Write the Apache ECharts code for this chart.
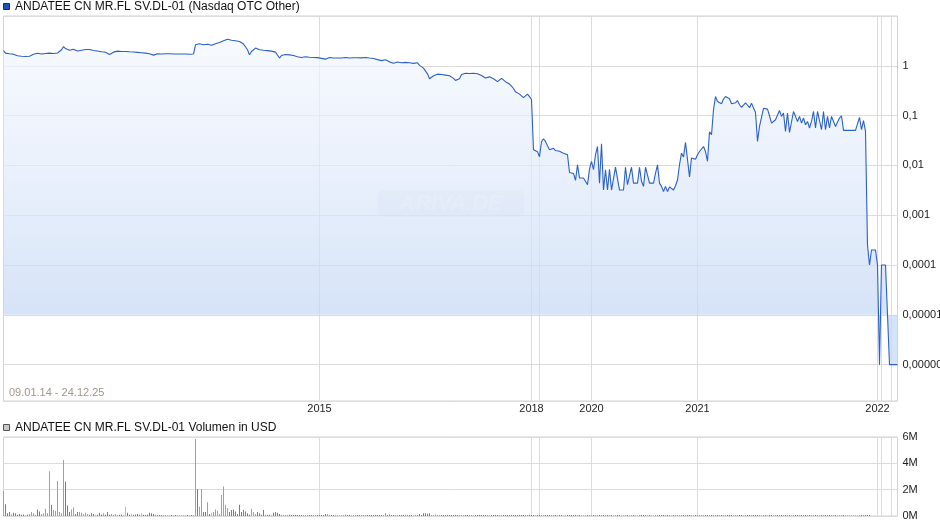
<!DOCTYPE html>
<html><head><meta charset="utf-8">
<script src="https://cdn.jsdelivr.net/npm/echarts@6/dist/echarts.min.js"></script>
<style>html,body{margin:0;padding:0;background:#fff}#c{width:940px;height:526px}</style>
</head><body><div id="c"></div>
<script>
// ---- data ----
const titleMain = 'ANDATEE CN MR.FL SV.DL-01 (Nasdaq OTC Other)';
const titleVol = 'ANDATEE CN MR.FL SV.DL-01 Volumen in USD';
const dateRange = '09.01.14 - 24.12.25';

// closing prices (USD), one per trading-day slot
const price = [
2.03,1.80,1.78,1.74,1.74,1.70,1.66,1.59,1.57,1.55,
1.54,1.54,1.52,1.55,1.63,1.70,1.83,1.78,1.69,1.72,
1.74,1.76,1.78,1.80,1.74,1.76,1.78,1.81,1.84,2.10,
2.44,2.22,2.10,2.05,2.10,2.15,2.00,1.98,2.02,2.05,
2.08,2.12,2.15,2.12,2.05,2.03,2.03,1.98,1.93,1.91,
1.96,1.87,1.76,1.69,1.78,1.88,1.96,1.97,1.95,1.94,
1.94,1.94,1.93,1.91,1.91,1.89,1.88,1.86,1.83,1.83,
1.81,1.80,1.78,1.74,1.71,1.64,1.71,1.74,1.73,1.72,
1.73,1.74,1.74,1.74,1.73,1.73,1.72,1.72,1.72,1.72,
1.72,1.72,1.70,1.70,1.69,1.72,
2.64,2.52,2.77,2.83,2.64,2.58,2.70,2.58,2.58,2.64,
2.77,2.90,2.94,3.11,3.18,3.23,3.41,3.33,3.25,3.23,
3.18,3.14,3.08,2.97,2.73,2.41,2.10,1.66,1.94,2.10,
2.27,2.15,2.10,2.07,2.05,2.10,2.02,1.97,1.97,1.91,
1.88,1.74,1.43,1.61,1.66,1.69,1.72,1.66,1.63,1.61,
1.57,1.52,1.50,1.47,1.48,1.52,1.57,1.48,1.43,1.47,
1.50,1.46,1.43,
1.41,1.38,1.36,1.41,1.47,1.46,1.43,1.43,1.43,1.43,
1.43,1.45,1.47,1.45,1.43,1.43,1.45,1.47,1.45,1.43,
1.44,1.46,1.47,1.45,1.43,1.42,1.40,1.38,1.33,1.28,
1.27,1.30,1.32,1.26,1.20,1.18,1.13,1.16,1.19,1.17,
1.15,1.14,1.17,1.19,1.15,1.12,1.12,1.14,1.15,1.02,
0.955,0.90,0.83,0.69,0.55,0.59,
0.63,0.66,0.68,0.69,0.67,0.66,0.65,0.64,0.63,0.60,
0.56,0.51,0.47,0.55,0.67,0.73,0.71,0.69,0.70,0.71,
0.71,0.70,0.69,0.67,0.64,0.61,0.57,0.60,0.60,0.57,
0.55,0.51,0.48,0.52,0.56,0.54,0.48,0.46,0.43,0.39,
0.35,0.30,0.29,0.27,0.26,0.23,0.24,0.27,0.24,0.21,
0.0206,0.0206,0.0188,0.0149,0.0299,0.0343,0.0303,0.0248,0.0206,0.0216,
0.0220,0.0199,0.0199,0.0192,0.0176,0.0176,0.0176,0.0164,0.0072,0.0071,
0.0069,0.0050,0.0103,0.0056,0.0056,0.0056,0.0056,0.0041,0.0084,0.0121,
0.0082,0.0164,0.0240,0.0044,0.0272,0.0032,0.0082,0.0032,0.0084,0.0032,
0.0032,0.0092,0.0087,0.0032,0.0032,0.0032,0.0092,0.0041,0.0041,0.0092,
0.0044,0.0044,0.0044,0.0092,0.0048,0.0038,0.0092,0.0092,0.0044,0.0044,
0.0044,0.0069,0.0103,0.0044,0.0038,0.0030,0.0038,0.0030,0.0037,0.0037,
0.0032,0.0039,0.0051,0.0103,0.0176,0.0147,0.0290,0.0282,0.0059,0.0141,
0.0141,0.0133,0.0164,0.0190,0.0206,0.0240,0.0190,0.0121,
0.0475,0.0413,0.131,0.242,0.192,0.208,0.173,0.215,0.242,0.233,
0.218,0.173,0.173,0.181,0.201,0.165,0.147,0.147,0.181,0.173,
0.144,0.178,0.142,0.117,0.0303,0.0606,0.0606,0.140,0.135,0.135,
0.0994,0.0706,0.0706,0.0826,0.0763,0.127,0.0963,0.113,0.0481,0.113,
0.0459,0.0459,0.121,0.0963,0.0763,0.0963,0.0706,0.0893,0.0656,0.0763,
0.0564,0.0763,0.121,0.0564,0.121,0.121,0.0521,0.121,0.0521,0.0963,
0.0564,0.0963,0.0994,0.0606,0.0606,0.0893,0.0994,0.0505,0.0505,0.0505,
0.0505,0.0505,0.0505,0.0505,0.0505,0.0921,0.0521,0.0792,0.0481,
0.00025,0.0001,0.0002,0.0002,0.0002,0.0001,0.000001,0.0001,0.0001,0.0001,
0.0001,0.000001,0.000001,0.000001,0.000001,0.000001
];

// traded volume, millions of USD, same slots
const volumeM = [
1.9,0.9,0.2,0.3,0.15,0.25,0.2,0.1,0.15,0.1,
0.12,0.08,0.1,0.15,0.3,0.2,0.1,0.5,0.35,0.15,
0.2,0.55,0.2,3.4,0.85,0.45,0.4,2.65,0.3,0.2,
4.25,2.6,0.8,0.3,0.5,0.65,0.15,0.3,0.3,0.25,
0.15,0.25,0.15,0.1,0.2,0.15,0.1,0.1,0.25,0.12,
0.2,0.1,0.3,0.1,0.15,0.1,0.15,0.08,0.1,0.12,
0.1,0.7,0.25,0.1,0.15,0.1,0.12,0.15,0.1,0.2,
0.1,0.08,0.1,0.25,0.2,0.15,0.1,0.05,0.05,0.04,
0.05,0.03,0.04,0.06,0.05,0.03,0.04,0.05,0.03,0.04,
0.05,0.04,0.03,0.05,0.04,0.05,
5.85,2.05,0.7,2.05,0.3,0.3,1.05,0.15,0.25,0.3,
0.5,0.4,0.15,1.6,2.25,0.85,0.6,0.3,0.45,0.5,
0.35,0.15,0.85,0.3,0.45,0.35,0.2,0.1,0.55,0.3,
0.15,0.3,0.2,0.1,0.45,0.1,0.08,0.1,0.1,0.25,
0.3,0.25,0.15,0.1,0.08,0.05,0.08,0.1,0.05,0.08,
0.05,0.08,0.05,0.05,0.08,0.05,0.05,0.05,0.04,0.06,
0.05,0.05,0.04,
0.06,0.08,0.15,0.15,0.1,0.05,0.08,0.1,0.04,0.05,
0.06,0.05,0.12,0.08,0.04,0.05,0.03,0.04,0.05,0.04,
0.05,0.04,0.05,0.06,0.05,0.04,0.05,0.04,0.05,0.06,
0.05,0.06,0.2,0.05,0.12,0.06,0.04,0.05,0.06,0.05,
0.05,0.06,0.1,0.1,0.05,0.06,0.05,0.1,0.06,0.15,
0.08,0.2,0.2,0.18,0.2,0.06,0.05,0.12,0.05,0.04,
0.05,0.04,0.05,0.04,0.05,0.08,0.04,0.05,0.04,0.05,
0.04,0.05,0.04,0.08,0.04,0.05,0.04,0.05,0.04,0.05,
0.04,0.05,0.04,0.05,0.04,0.05,0.04,0.05,0.04,0.05,
0.04,0.05,0.04,0.05,0.08,0.04,0.05,0.04,0.05,0.04,
0.05,0.04,0.05,0.06,0.1,0.05,
0.02,0.01,0.02,0.01,0.03,0.02,0.01,0.02,0.01,0.02,
0.01,0.02,0.01,0.01,0.02,0.01,0.02,0.01,0.03,0.01,
0.02,0.01,0.01,0.02,0.01,0.02,0.01,0.01,0.02,0.01,
0.02,0.01,0.03,0.01,0.02,0.01,0.02,0.01,0.01,0.02,
0.01,0.02,0.01,0.02,0.01,0.01,0.02,0.01,0.02,0.01,
0.01,0.02,0.01,0.02,0.01,0.02,0.01,0.01,0.02,0.01,
0.02,0.01,0.02,0.01,0.01,0.02,0.01,0.02,0.01,0.02,
0.01,0.02,0.01,0.03,0.02,0.01,0.02,0.01,0.02,0.01,
0.02,0.01,0.01,0.02,0.01,0.02,0.01,0.02,0.01,0.01,
0.02,0.01,0.02,0.01,0.02,0.01,0.01,0.02,0.01,0.02,
0.01,0.02,0.01,0.02,0.01,0.01,0.02,0.01,0.02,0.01,
0.02,0.01,0.01,0.02,0.01,0.02,0.01,0.02,0.01,0.01,
0.02,0.01,0.02,0.01,0.02,0.01,0.01,0.02,0.01,0.02,
0.01,0.02,0.01,0.02,0.01,0.01,0.02,0.01,0.02,0.01,
0.02,0.01,0.01,0.02,0.01,0.02,0.01,0.02,0.01,0.01,
0.02,0.01,0.02,0.01,0.01,0.02,0.01,0.02,0.01,0.02,
0.01,0.01,0.02,0.01,0.02,0.01,0.02,0.01,0.01,
0,0,0,0,0,0,0,0,0,0,0,0,0,0
];

// year boundaries on the trading-day axis
const yearTickIndex = [158, 264, 268, 294, 347, 437, 439, 444];
const yearTickLabel = ['2015', '2018', '2019', '2020', '2021', '2022', '2023', '2024'];

// volume axis ticks (millions)
const volMax = 6, volStep = 2;

// ---- build ----
const FONT = '"Liberation Sans", Arial, Helvetica, sans-serif';
const cats = price.map((_, i) => String(i));
const tickSet = new Set(yearTickIndex);
const labelMap = {};
let lastShown = -1e9;
yearTickIndex.forEach((idx, k) => {
  if (idx - lastShown >= 15) { labelMap[idx] = yearTickLabel[k]; lastShown = idx; }
});

const GREEN = '#55d455', RED = '#e05050', GREY = '#b8b8b8';
const volData = volumeM.map((v, i) => {
  if (!v) return '-';
  let c = GREY;
  if (i > 0) {
    if (price[i] > price[i - 1]) c = GREEN;
    else if (price[i] < price[i - 1]) c = RED;
  } else c = GREEN;
  return { value: v, itemStyle: { color: c, borderWidth: 0 } };
});

function fmtPrice(v) {
  if (v >= 9.99 || v < 9e-7) return '';
  const e = Math.round(Math.log10(v));
  if (e >= 0) return String(Math.round(v));
  return v.toFixed(-e).replace('.', ',');
}

const gridLine = { color: '#dcdcdc', width: 1 };
const chart = echarts.init(document.getElementById('c'), null, { renderer: 'canvas' });
chart.setOption({
  animation: false,
  backgroundColor: '#fff',
  textStyle: { fontFamily: FONT },
  grid: [
    { left: 3.5, right: 42.5, top: 16, bottom: 125, show: true, borderColor: '#d3d3d3', borderWidth: 1, containLabel: false, outerBoundsMode: 'none' },
    { left: 3.5, right: 42.5, top: 437, bottom: 10, show: true, borderColor: '#d3d3d3', borderWidth: 1, containLabel: false, outerBoundsMode: 'none' }
  ],
  xAxis: [
    {
      type: 'category', gridIndex: 0, data: cats, boundaryGap: false,
      axisLine: { show: false }, axisTick: { show: false },
      axisLabel: {
        interval: (i) => labelMap[i] !== undefined,
        formatter: (val, i) => labelMap[+val] || '',
        color: '#222', fontSize: 11, margin: 2, fontFamily: FONT
      },
      splitLine: { show: true, interval: (i) => tickSet.has(i), lineStyle: gridLine }
    },
    {
      type: 'category', gridIndex: 1, data: cats, boundaryGap: false,
      axisLine: { show: false }, axisTick: { show: false }, axisLabel: { show: false },
      splitLine: { show: true, interval: (i) => tickSet.has(i), lineStyle: gridLine }
    }
  ],
  yAxis: [
    {
      type: 'log', logBase: 10, gridIndex: 0, position: 'right',
      min: 1.86e-7, max: 10,
      axisLine: { show: false }, axisTick: { show: false },
      axisLabel: { formatter: fmtPrice, color: '#222', fontSize: 11, margin: 5, fontFamily: FONT, showMinLabel: false, showMaxLabel: false },
      splitLine: { show: true, lineStyle: gridLine }
    },
    {
      type: 'value', gridIndex: 1, position: 'right', min: 0, max: volMax, interval: volStep,
      axisLine: { show: false }, axisTick: { show: false },
      axisLabel: { formatter: (v) => v + 'M', color: '#222', fontSize: 11, margin: 5, fontFamily: FONT },
      splitLine: { show: true, lineStyle: gridLine }
    }
  ],
  series: [
    {
      type: 'line', xAxisIndex: 0, yAxisIndex: 0, data: price,
      showSymbol: false, symbol: 'none',
      lineStyle: { color: '#2b60c6', width: 1.1 },
      areaStyle: {
        origin: 0.00001,
        color: { type: 'linear', x: 0, y: 16, x2: 0, y2: 315, global: true,
          colorStops: [{ offset: 0, color: '#f6f9fe' }, { offset: 0.5, color: '#e2ebfa' }, { offset: 1, color: '#c4d8f5' }] }
      },
      z: 3
    },
    {
      type: 'bar', xAxisIndex: 1, yAxisIndex: 1, data: volData,
      barWidth: 1, barMinHeight: 1, large: false, progressive: 0
    }
  ],
  graphic: [
    { type: 'rect', shape: { x: 3.5, y: 3.5, width: 6, height: 6 }, style: { fill: '#1f52b4', stroke: '#0d2d6e', lineWidth: 1 } },
    { type: 'text', x: 15, y: 7, style: { text: titleMain, font: '12px ' + FONT, fill: '#111', verticalAlign: 'middle' } },
    { type: 'rect', shape: { x: 3.5, y: 424.5, width: 6, height: 6 }, style: { fill: '#c9c9c9', stroke: '#555', lineWidth: 1 } },
    { type: 'text', x: 15, y: 428, style: { text: titleVol, font: '12px ' + FONT, fill: '#111', verticalAlign: 'middle' } },
    { type: 'text', x: 9, y: 393, style: { text: dateRange, font: '11px ' + FONT, fill: '#a0978c', verticalAlign: 'middle' } },
    {
      type: 'group', x: 378, y: 190, silent: true,
      children: [
        { type: 'rect', shape: { x: 0, y: 0, width: 146, height: 27, r: 5 }, style: { fill: 'rgba(215,222,232,0.35)' } },
        { type: 'text', x: 73, y: 14, style: { text: 'ARIVA.DE', font: 'italic bold 22px ' + FONT, fill: 'rgba(255,255,255,0.75)', align: 'center', verticalAlign: 'middle' } }
      ]
    }
  ]
});
</script>
</body></html>
